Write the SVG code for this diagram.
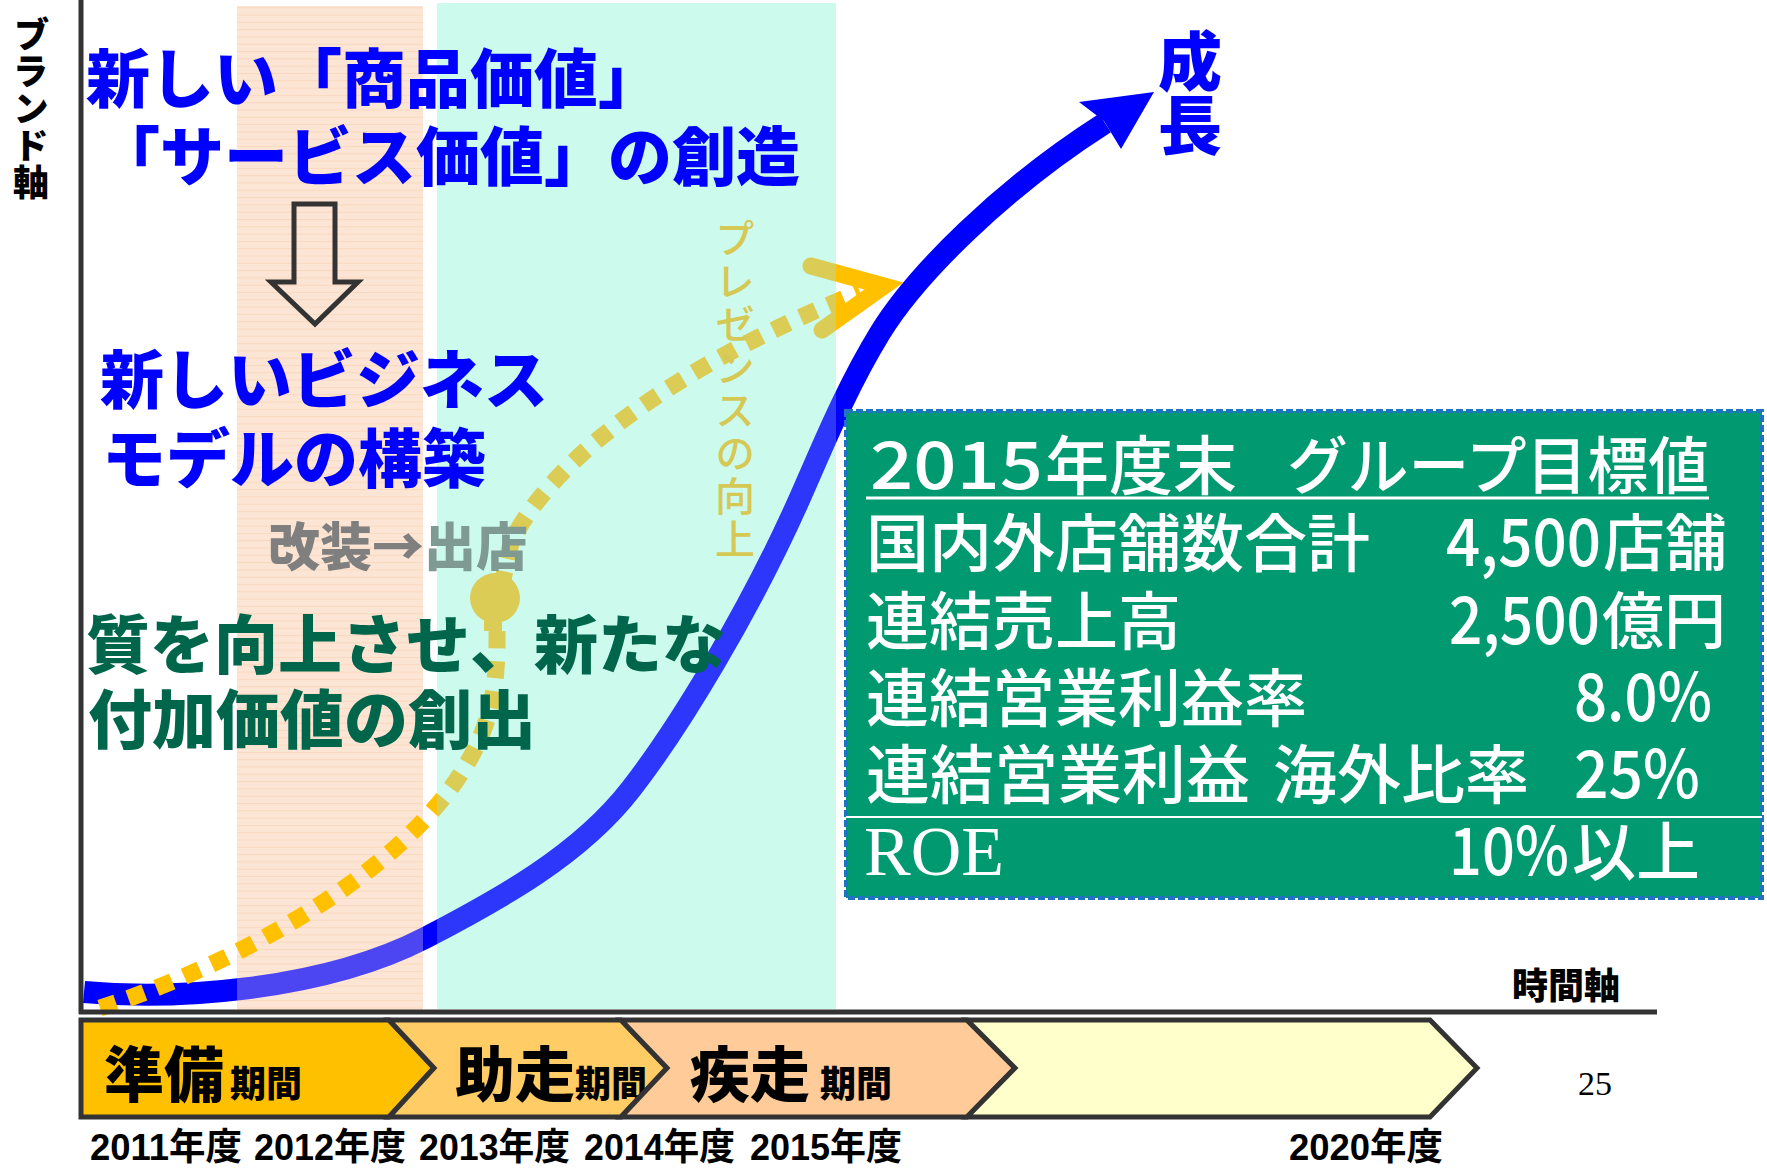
<svg xmlns="http://www.w3.org/2000/svg" width="1767" height="1172" viewBox="0 0 1767 1172">
<style>
.jp{font-family:'Noto Sans CJK JP','Noto Sans',sans-serif}
.hb{font-family:'Noto Sans CJK JP','Noto Sans',sans-serif;font-weight:900;font-size:64px}
.blue{fill:#0000FF}
.green{fill:#00664B}
.wt{font-family:'Noto Sans CJK JP','Noto Sans',sans-serif;fill:#FFFFFF;font-weight:500}
.blk{font-family:'Noto Sans CJK JP','Noto Sans',sans-serif;fill:#000;font-weight:900}
.chev{stroke:#333;stroke-width:5;stroke-linejoin:miter}
.vert{writing-mode:vertical-rl}
.yr{font-family:'Liberation Sans','Noto Sans CJK JP',sans-serif;fill:#000;font-weight:700;font-size:37px}
</style>
<defs>
<pattern id="peachStripe" patternUnits="userSpaceOnUse" width="8" height="7.3">
<rect width="8" height="7.3" fill="#FDE6D4"/>
<rect y="0" width="8" height="1" fill="#F8D3B6"/>
</pattern>
<clipPath id="inCyan"><rect x="437" y="0" width="399" height="1012"/></clipPath>
<clipPath id="outCyan"><path d="M0 0 H437 V1172 H0 Z M836 0 H1767 V1172 H836 Z"/></clipPath>
<g id="dotline">
<path d="M100 1008 C220 970 400 880 468 762 C490 724 497 690 497 640 C497 600 505 570 511 543 C540 480 640 380 860 292" fill="none" stroke-width="17" stroke-dasharray="17 13"/>
<polyline points="811,266 884,286 822,330" fill="none" stroke-width="17" stroke-linecap="round" stroke-linejoin="miter"/>
<circle cx="495" cy="598" r="25" stroke="none"/>
<rect x="484" y="618" width="18" height="13" stroke="none"/>
</g>
</defs>
<rect width="1767" height="1172" fill="#FFFFFF"/>

<g id="bands">
<rect x="237" y="6" width="186" height="1006" fill="url(#peachStripe)"/>
<rect x="437" y="3" width="399" height="1006" fill="#CCFCEF"/>
</g>

<g id="connectors">
<g id="growth-curve">
<path d="M84 992 C170 1000 320 992 425 938 C500 899 580 855 631 789 C680 726 750 610 799 500 C820 453 845 390 880 333 C915 276 1000 190 1105 123" fill="none" stroke="#0000FF" stroke-width="22"/>
<polygon points="1154,92 1079,102 1104,121 1121,149" fill="#0000FF"/>
</g>
<rect x="237" y="6" width="186" height="1006" fill="#FDE6D4" opacity="0.3"/>
<rect x="437" y="3" width="399" height="1006" fill="#CCFCEF" opacity="0.22"/>
<g id="presence-line">
<use href="#dotline" clip-path="url(#outCyan)" stroke="#FFC000" fill="#FFC000"/>
<use href="#dotline" clip-path="url(#inCyan)" stroke="#DACC55" fill="#DACC55"/>
</g>
</g>

<g id="label-kaiso">
<text class="jp" x="268" y="566" font-size="52" font-weight="900" fill="#7F7F7F">改装→<tspan fill="#7E9A92">出店</tspan></text>
</g>
<g id="label-presence">
<text class="jp vert" x="735" y="218" font-size="40" font-weight="500" letter-spacing="3" fill="#D6C855">プレゼンスの向上</text>
</g>

<g id="axes">
<line x1="81" y1="0" x2="81" y2="1014" stroke="#333" stroke-width="5"/>
<line x1="79" y1="1012" x2="1657" y2="1012" stroke="#333" stroke-width="5"/>
</g>

<g id="axis-label-brand">
<text class="blk vert" x="31" y="16" font-size="36" letter-spacing="1">ブランド軸</text>
</g>
<g id="axis-label-time">
<text class="blk" x="1512" y="999" font-size="36">時間軸</text>
</g>

<g id="text-value-creation">
<text class="hb blue" x="86" y="102">新しい「商品価値」</text>
<text class="hb blue" x="96" y="180" font-size="63">「サービス価値」の創造</text>
</g>
<g id="down-arrow">
<path d="M294 204 H335 V282 H358 L315 324 L271 282 H294 Z" fill="none" stroke="#333" stroke-width="5"/>
</g>
<g id="text-business-model">
<text class="hb blue" x="100" y="403">新しいビジネス</text>
<text class="hb blue" x="102" y="482">モデルの構築</text>
</g>
<g id="text-quality">
<text class="hb green" x="86" y="668">質を向上させ、新たな</text>
<text class="hb green" x="88" y="743">付加価値の創出</text>
</g>
<g id="label-growth">
<text class="hb blue vert" x="1190" y="29" font-size="61" letter-spacing="0">成長</text>
</g>

<g id="target-box">
<rect x="846" y="411" width="916" height="487" fill="#009970" stroke="#1F72C4" stroke-width="4" stroke-dasharray="7 3"/>
<text class="wt" x="870" y="489" font-size="66" textLength="173" lengthAdjust="spacingAndGlyphs">2015</text>
<text class="wt" x="1045" y="489" font-size="64">年度末</text>
<text class="wt" x="1287" y="489" font-size="62" textLength="422" lengthAdjust="spacingAndGlyphs">グループ目標値</text>
<line x1="866" y1="498" x2="1709" y2="498" stroke="#FFF" stroke-width="3"/>
<text class="wt" x="866" y="566" font-size="63">国内外店舗数合計</text>
<text class="wt" x="1446" y="566" font-size="66" textLength="155" lengthAdjust="spacingAndGlyphs">4,500</text>
<text class="wt" x="1603" y="566" font-size="62">店舗</text>
<text class="wt" x="866" y="644" font-size="63">連結売上高</text>
<text class="wt" x="1449" y="644" font-size="66" textLength="151" lengthAdjust="spacingAndGlyphs">2,500</text>
<text class="wt" x="1602" y="644" font-size="62">億円</text>
<text class="wt" x="866" y="721" font-size="63">連結営業利益率</text>
<text class="wt" x="1574" y="721" font-size="66" textLength="138" lengthAdjust="spacingAndGlyphs">8.0%</text>
<text class="wt" y="798" font-size="64"><tspan x="866">連結営業利益 </tspan><tspan x="1273">海外比率</tspan></text>
<text class="wt" x="1574" y="798" font-size="66" textLength="126" lengthAdjust="spacingAndGlyphs">25%</text>
<line x1="846" y1="817" x2="1762" y2="817" stroke="#FFF" stroke-width="2"/>
<text x="864" y="875" font-family="'Liberation Serif',serif" font-size="70" fill="#FFF">ROE</text>
<text class="wt" x="1449" y="875" font-size="66" textLength="120" lengthAdjust="spacingAndGlyphs">10%</text>
<text class="wt" x="1572" y="875" font-size="64">以上</text>
</g>

<g id="phase-prep">
<polygon class="chev" points="81,1020 389,1020 434,1068 389,1117 81,1117" fill="#FFC000"/>
<text class="blk" x="104" y="1097" font-size="60">準備<tspan font-size="36" dx="6">期間</tspan></text>
</g>
<g id="phase-run-up">
<polygon class="chev" points="389,1020 621,1020 667,1068 621,1117 389,1117 434,1068" fill="#FFCC66"/>
<text class="blk" x="455" y="1097" font-size="60">助走<tspan font-size="36">期間</tspan></text>
</g>
<g id="phase-sprint">
<polygon class="chev" points="621,1020 967,1020 1015,1068 967,1117 621,1117 667,1068" fill="#FFCC99"/>
<text class="blk" x="690" y="1097" font-size="60">疾走<tspan font-size="36" dx="10">期間</tspan></text>
</g>
<g id="phase-future">
<polygon class="chev" points="967,1020 1430,1020 1477,1068 1430,1117 967,1117 1015,1068" fill="#FFFFCC"/>
</g>

<g id="years">
<text class="yr" x="90" y="1160" textLength="152" lengthAdjust="spacingAndGlyphs">2011年度</text>
<text class="yr" x="254" y="1160" textLength="152" lengthAdjust="spacingAndGlyphs">2012年度</text>
<text class="yr" x="419" y="1160" textLength="151" lengthAdjust="spacingAndGlyphs">2013年度</text>
<text class="yr" x="584" y="1160" textLength="151" lengthAdjust="spacingAndGlyphs">2014年度</text>
<text class="yr" x="750" y="1160" textLength="152" lengthAdjust="spacingAndGlyphs">2015年度</text>
<text class="yr" x="1289" y="1160" textLength="154" lengthAdjust="spacingAndGlyphs">2020年度</text>
</g>
<g id="page-number">
<text x="1578" y="1095" font-family="'Liberation Serif',serif" font-size="34" fill="#000">25</text>
</g>
</svg>
